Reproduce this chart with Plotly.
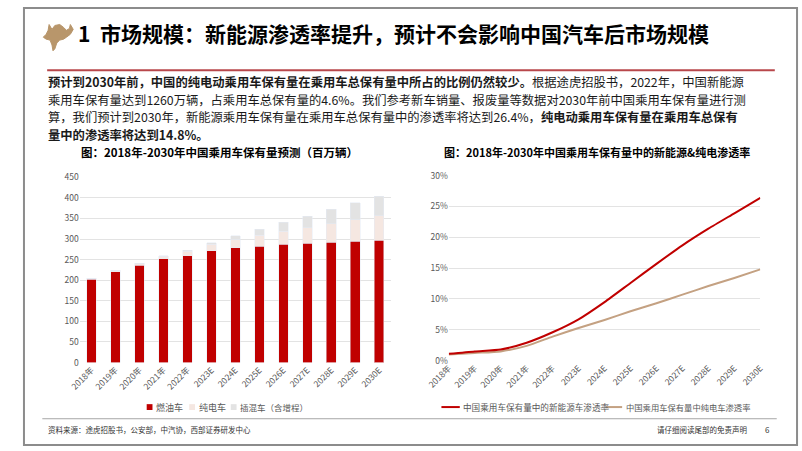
import plotly.graph_objects as go

W, H = 802, 451

years = ["2018年", "2019年", "2020年", "2021年", "2022年", "2023E", "2024E",
         "2025E", "2026E", "2027E", "2028E", "2029E", "2030E"]
fuel_car = [203, 220.6, 236.5, 252, 260, 271.5, 278.7, 283.2, 287, 289.4, 292.4, 295.3, 297]
bev_car = [1.9, 2.8, 3.6, 6.2, 10.6, 15.4, 20.3, 25.9, 31.7, 38.1, 45.0, 52.0, 59.7]
phev_car = [0.4, 0.6, 0.7, 1.3, 2.0, 4.1, 9.0, 14.9, 21.8, 28.5, 34.6, 40.7, 46.8]
nev_rate = [0.011, 0.015, 0.018, 0.029, 0.046, 0.067, 0.095, 0.126, 0.157, 0.187, 0.214, 0.239, 0.264]
bev_rate = [0.010, 0.0125, 0.015, 0.024, 0.039, 0.053, 0.066, 0.080, 0.093, 0.107, 0.121, 0.134, 0.148]
left_ticks = [0, 50, 100, 150, 200, 250, 300, 350, 400, 450]
right_ticks = [0, 0.05, 0.10, 0.15, 0.20, 0.25, 0.30]

FONT = "Noto Sans CJK SC"
RED = "#C00000"
TAN = "#C4A182"
BEV_C = "#F5E7E1"
PHEV_C = "#E3E3E3"


def px(x):
    return x / W


def py(y):
    return 1 - y / H


fig = go.Figure()

fig.add_trace(go.Bar(x=years, y=fuel_car, name="燃油车", marker_color=RED,
                     xaxis="x", yaxis="y", width=0.4))
fig.add_trace(go.Bar(x=years, y=bev_car, name="纯电车", marker_color=BEV_C,
                     xaxis="x", yaxis="y", width=0.4))
fig.add_trace(go.Bar(x=years, y=phev_car, name="插混车（含增程）", marker_color=PHEV_C,
                     xaxis="x", yaxis="y", width=0.4))

fig.add_trace(go.Scatter(x=years, y=bev_rate, name="中国乘用车保有量中纯电车渗透率",
                         mode="lines", line=dict(color=TAN, width=2, shape="spline", smoothing=0.6),
                         xaxis="x2", yaxis="y2"))
fig.add_trace(go.Scatter(x=years, y=nev_rate, name="中国乘用车保有量中的新能源车渗透率",
                         mode="lines", line=dict(color=RED, width=2, shape="spline", smoothing=0.6),
                         xaxis="x2", yaxis="y2"))

axis_font = dict(family=FONT, size=8.5, color="#595959")

fig.update_layout(
    width=W, height=H,
    margin=dict(l=0, r=0, t=0, b=0),
    paper_bgcolor="white", plot_bgcolor="white",
    barmode="stack",
    showlegend=False,
    xaxis=dict(domain=[px(58.6), px(381)], type="category", tickangle=-45,
               tickfont=axis_font, showgrid=False, showline=False, ticks="",
               anchor="y"),
    yaxis=dict(domain=[py(365.3), py(175)], range=[0, 450], tickvals=left_ticks,
               tickfont=axis_font, gridcolor="#E3E3E3", gridwidth=1, zeroline=False,
               showline=False, ticks="", anchor="x"),
    xaxis2=dict(domain=[px(440.6), px(763)], type="category", tickangle=-45,
                tickfont=axis_font, showgrid=False, showline=False, ticks="",
                anchor="y2"),
    yaxis2=dict(domain=[py(363.3), py(173.3)], range=[0, 0.30], tickvals=right_ticks,
                tickformat=".0%", tickfont=axis_font, gridcolor="#E3E3E3", gridwidth=1,
                zeroline=False, showline=False, ticks="", anchor="x2"),
)

# Bull icon (decorative)
bull = [(21, 31), (24, 28), (26, 24), (27, 18), (30, 23), (33, 19), (38, 18), (42, 21),
        (45, 24), (48, 22), (49, 18), (52, 23), (49, 28), (45, 31), (42, 33), (38, 34),
        (35, 37), (33, 43), (31, 45), (30, 39), (28, 34), (24, 33)]
path = "M " + " L ".join(f"{px(x):.4f},{py(y):.4f}" for x, y in bull) + " Z"


def prect(x0, x1, y0, y1, color):
    return dict(type="rect", xref="paper", yref="paper", x0=px(x0), x1=px(x1),
                y0=py(y1), y1=py(y0), fillcolor=color, line=dict(width=0))


def pline(x0, x1, y, color, width):
    return dict(type="line", xref="paper", yref="paper", x0=px(x0), x1=px(x1),
                y0=py(y), y1=py(y), line=dict(color=color, width=width))


shapes = [
    dict(type="rect", xref="paper", yref="paper", x0=px(1), x1=px(801), y0=py(450), y1=py(1),
         line=dict(color="#8C8C8C", width=2), fillcolor="rgba(0,0,0,0)", layer="above"),
    dict(type="path", xref="paper", yref="paper", path=path, fillcolor="#B8966B",
         line=dict(color="#B8966B", width=1)),
    pline(25, 778, 65, "#B8474B", 2),
    pline(20, 780, 423, "#A6A6A6", 1),
    # legend swatches
    prect(128, 134, 408, 414, RED),
    prect(172, 178, 408, 414, BEV_C),
    prect(215, 221, 408, 414, PHEV_C),
    pline(433, 452, 411, RED, 2),
    pline(603, 620, 411, TAN, 2),
]
fig.update_layout(shapes=shapes)

annotations = []


def note(text, x, y, size, xanchor="left", color="#000000"):
    annotations.append(dict(text=text, x=px(x), y=py(y), xref="paper", yref="paper",
                            xanchor=xanchor, yanchor="middle", showarrow=False, borderpad=0,
                            font=dict(family=FONT, size=size, color=color)))


note("<b>1  市场规模：新能源渗透率提升，预计不会影响中国汽车后市场规模</b>", 56, 27, 21)

para = [
    "<b>预计到2030年前，中国的纯电动乘用车保有量在乘用车总保有量中所占的比例仍然较少。</b>根据途虎招股书，2022年，中国新能源",
    "乘用车保有量达到1260万辆，占乘用车总保有量的4.6%。我们参考新车销量、报废量等数据对2030年前中国乘用车保有量进行测",
    "算，我们预计到2030年，新能源乘用车保有量在乘用车总保有量中的渗透率将达到26.4%，<b>纯电动乘用车保有量在乘用车总保有</b>",
    "<b>量中的渗透率将达到14.8%。</b>",
]
for i, line in enumerate(para):
    note(line, 25, 77 + i * 18.2, 12.3, color="#1A1A1A")

note("<b>图：2018年-2030年中国乘用车保有量预测（百万辆）</b>", 203, 149, 11.5, xanchor="center")
note("<b>图：2018年-2030年中国乘用车保有量中的新能源&纯电渗透率</b>", 594, 149, 11, xanchor="center")

leg_c = "#595959"
note("燃油车", 137, 411, 9, color=leg_c)
note("纯电车", 181, 411, 9, color=leg_c)
note("插混车（含增程）", 224, 411, 8.5, color=leg_c)
note("中国乘用车保有量中的新能源车渗透率", 454, 411, 8.6, color=leg_c)
note("中国乘用车保有量中纯电车渗透率", 623, 411, 8.3, color=leg_c)

note("资料来源：途虎招股书，公安部，中汽协，西部证券研发中心", 25, 434, 7.5, color="#333333")
note("请仔细阅读尾部的免责声明", 750, 434, 7.5, xanchor="right", color="#333333")
note("6", 770, 434, 8, xanchor="center", color="#333333")

fig.update_layout(annotations=annotations)

fig.write_html("out.html", config={"displayModeBar": False},
               post_script="document.body.style.margin='0';document.body.style.overflow='hidden';")
